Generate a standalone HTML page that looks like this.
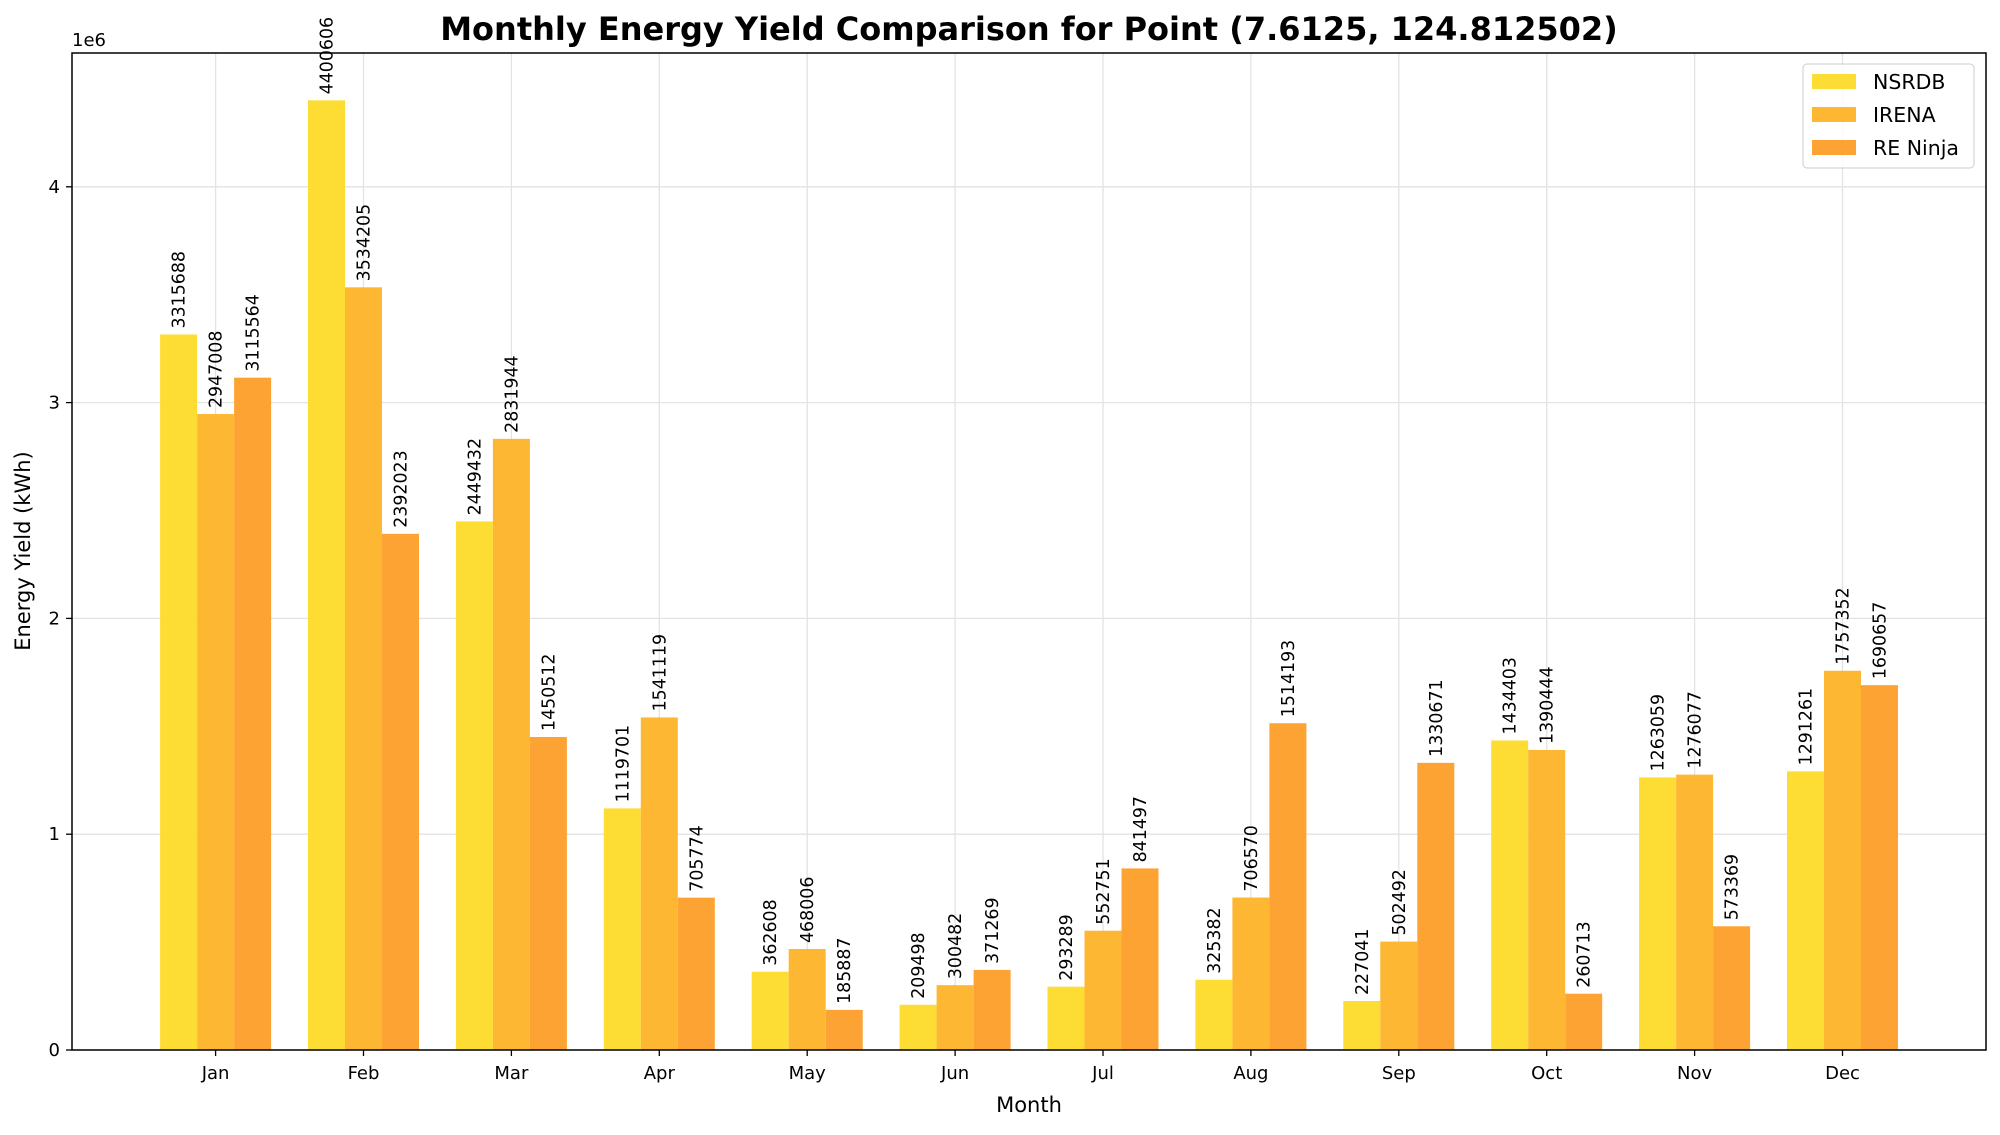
<!DOCTYPE html>
<html><head><meta charset="utf-8"><style>
body{margin:0;background:#fff;}
svg text{font-family:"DejaVu Sans","Liberation Sans",sans-serif;fill:#000;}
</style></head><body>
<svg id="chart" width="2000" height="1130" xmlns="http://www.w3.org/2000/svg">
<rect width="2000" height="1130" fill="#fff"/>
<g id="grid"></g><g id="bars"></g><g id="labels"></g><g id="axes"></g>
<text x="1029" y="40" text-anchor="middle" font-size="32" font-weight="bold">Monthly Energy Yield Comparison for Point (7.6125, 124.812502)</text>
<text x="1029" y="1112" text-anchor="middle" font-size="21">Month</text>
<text transform="translate(30,551) rotate(-90)" text-anchor="middle" font-size="21">Energy Yield (kWh)</text>
<text x="72" y="46" font-size="18">1e6</text>
<g>
<rect x="1803" y="64" width="171" height="104" rx="4" fill="#fff" fill-opacity="0.8" stroke="#ccc"/>
<rect x="1812" y="74" width="44" height="15" fill="#fddc33"/>
<text x="1873" y="89" font-size="20.5">NSRDB</text>
<rect x="1812" y="107" width="44" height="15" fill="#fdb733"/>
<text x="1873" y="122" font-size="20.5">IRENA</text>
<rect x="1812" y="140" width="44" height="15" fill="#fda333"/>
<text x="1873" y="155" font-size="20.5">RE Ninja</text>
</g>
</svg>
<script>
const months=["Jan","Feb","Mar","Apr","May","Jun","Jul","Aug","Sep","Oct","Nov","Dec"];
const nsrdb=[3315688,4400606,2449432,1119701,362608,209498,293289,325382,227041,1434403,1263059,1291261];
const irena=[2947008,3534205,2831944,1541119,468006,300482,552751,706570,502492,1390444,1276077,1757352];
const reninja=[3115564,2392023,1450512,705774,185887,371269,841497,1514193,1330671,260713,573369,1690657];
const yTicks=[0,1,2,3,4];
const NS="http://www.w3.org/2000/svg";
const L=72,R=1986,T=53,B=1050;
const x0=215.6,step=147.9,bw=37;
const xs=i=>x0+i*step;
const ys=v=>B-v/1e6*215.8;
function mk(tag,attrs,parent,text){const e=document.createElementNS(NS,tag);for(const k in attrs)e.setAttribute(k,attrs[k]);if(text!==undefined)e.textContent=text;document.getElementById(parent).appendChild(e);return e;}
yTicks.forEach(t=>{const y=ys(t*1e6);
let g=mk('line',{x1:L,x2:R,y1:y,y2:y,stroke:'#e3e3e3','stroke-width':1.3},'grid');

let tk=mk('line',{x1:L-6,x2:L,y1:y,y2:y,stroke:'#000','stroke-width':1.3},'axes');

let tx=mk('text',{x:L-12,y:y+6,'text-anchor':'end','font-size':18},'axes',String(t));
});
months.forEach((m,i)=>{const x=xs(i);
let g=mk('line',{x1:x,x2:x,y1:T,y2:B,stroke:'#e3e3e3','stroke-width':1.3},'grid');

let tk=mk('line',{x1:x,x2:x,y1:B,y2:B+6,stroke:'#000','stroke-width':1.3},'axes');

let tx=mk('text',{x:x,y:B+29,'text-anchor':'middle','font-size':18},'axes',m);
});
const series=[[nsrdb,'#fddc33','nsrdb',-1],[irena,'#fdb733','irena',0],[reninja,'#fda333','reninja',1]];
series.forEach(([vals,col,nm,off])=>{vals.forEach((v,i)=>{const cx=xs(i)+off*bw;const y=ys(v);
let r=mk('rect',{x:cx-bw/2,y:y,width:bw,height:B-y,fill:col},'bars');

let t=mk('text',{transform:`translate(${cx+6},${y-6}) rotate(-90)`,'font-size':17.4},'labels',String(v));
});});
let fr=mk('rect',{x:L,y:T,width:R-L,height:B-T,fill:'none',stroke:'#000','stroke-width':1.5},'axes');

</script>
</body></html>
